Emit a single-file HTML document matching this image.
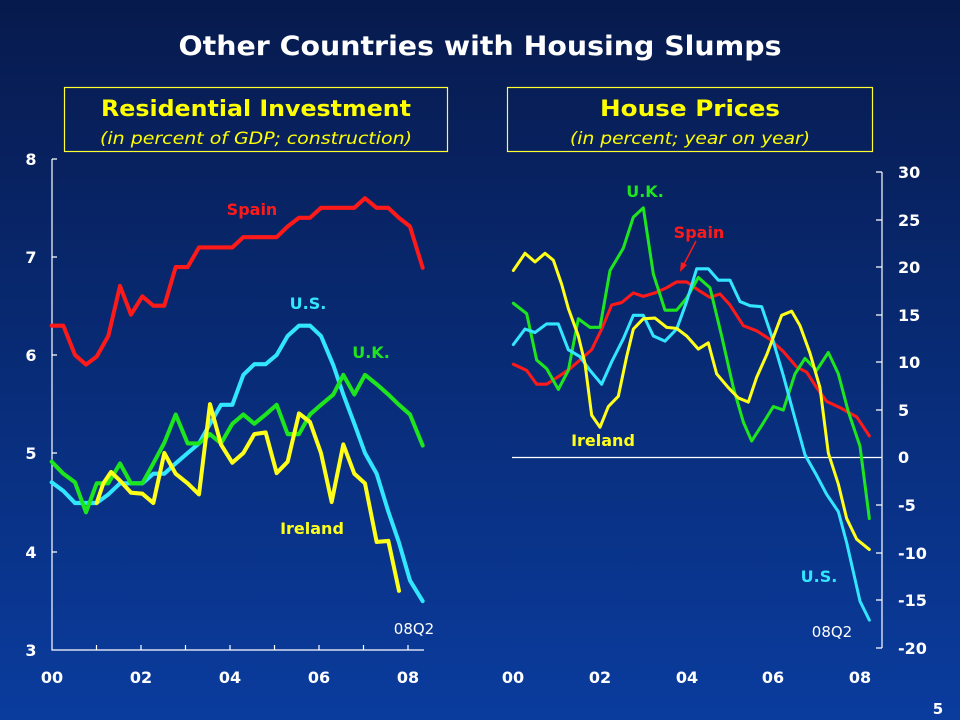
<!DOCTYPE html>
<html><head><meta charset="utf-8"><style>
html,body{margin:0;padding:0;width:960px;height:720px;overflow:hidden}
svg{display:block}
text{font-family:"DejaVu Sans","Liberation Sans",sans-serif}
</style></head><body>
<svg width="960" height="720" viewBox="0 0 960 720" xmlns="http://www.w3.org/2000/svg">
<defs><linearGradient id="bg" x1="0" y1="0" x2="0" y2="1">
<stop offset="0" stop-color="#071a4d"/><stop offset="1" stop-color="#0a3c9e"/></linearGradient></defs>
<rect width="960" height="720" fill="url(#bg)"/>
<text x="480" y="55" text-anchor="middle" fill="#fff" font-size="27" font-weight="bold" textLength="603" lengthAdjust="spacingAndGlyphs">Other Countries with Housing Slumps</text>

<rect x="64.5" y="87.5" width="383" height="64" fill="none" stroke="#ffff33" stroke-width="1.2"/>
<text x="256" y="116" text-anchor="middle" fill="#ffff00" font-size="22" font-weight="bold" textLength="310" lengthAdjust="spacingAndGlyphs">Residential Investment</text>
<text x="256" y="144" text-anchor="middle" fill="#ffff00" font-size="17" font-style="italic" textLength="312" lengthAdjust="spacingAndGlyphs">(in percent of GDP; construction)</text>

<rect x="507.5" y="87.5" width="365" height="64" fill="none" stroke="#ffff33" stroke-width="1.2"/>
<text x="690" y="116" text-anchor="middle" fill="#ffff00" font-size="22" font-weight="bold" textLength="180" lengthAdjust="spacingAndGlyphs">House Prices</text>
<text x="690" y="144" text-anchor="middle" fill="#ffff00" font-size="17" font-style="italic" textLength="240" lengthAdjust="spacingAndGlyphs">(in percent; year on year)</text>

<!-- Left axes -->
<g stroke="#fff" stroke-width="1.2" fill="none">
<path d="M52 159 V650 H424"/>
<path d="M52 159 h5 M52 257 h5 M52 355 h5 M52 453 h5 M52 552 h5"/>
<path d="M96.5 650 v-5 M141 650 v-5 M185.5 650 v-5 M230 650 v-5 M274.5 650 v-5 M319 650 v-5 M363.5 650 v-5 M408 650 v-5"/>
</g>
<g fill="#fff" font-size="16" font-weight="bold" text-anchor="middle">
<text x="31" y="165">8</text><text x="31" y="263">7</text><text x="31" y="361">6</text>
<text x="31" y="459">5</text><text x="31" y="558">4</text><text x="31" y="656">3</text>
<text x="52" y="683">00</text><text x="141" y="683">02</text><text x="230" y="683">04</text>
<text x="319" y="683">06</text><text x="408" y="683">08</text>
</g>
<g transform="translate(0,150) scale(0.33333,0.34439)" fill="none" stroke-width="12" stroke-linejoin="round" stroke-linecap="round">
<polyline stroke="#ff1a1a" points="155,510 190,510 225,595 258,623 290,600 325,540 360,395 393,478 427,425 460,452 493,452 527,340 563,340 597,283 630,283 663,283 697,283 730,253 763,253 797,253 830,253 863,222 897,197 930,197 963,168 1030,168 1063,168 1095,140 1130,168 1165,168 1197,197 1230,222 1268,342"/>
<polyline stroke="#33e6ff" points="155,965 190,990 225,1025 258,1025 290,1025 325,1000 360,968 393,968 427,968 460,940 493,940 527,910 563,880 597,852 630,795 663,740 697,740 730,653 763,622 797,622 830,595 863,540 897,510 930,510 963,540 1000,625 1030,710 1063,795 1095,880 1130,940 1165,1050 1197,1140 1230,1250 1268,1310"/>
<polyline stroke="#1ee61e" points="155,905 190,940 225,965 258,1052 290,968 325,968 360,910 393,968 427,968 460,910 493,850 527,768 563,852 597,852 630,825 663,852 697,795 730,768 763,795 797,768 830,740 863,825 897,825 930,768 963,740 1000,710 1030,653 1063,710 1095,653 1130,680 1165,710 1197,740 1230,768 1268,858"/>
<polyline stroke="#ffff1a" points="290,1025 310,968 333,935 360,960 393,995 427,998 460,1025 493,880 527,940 563,968 597,1000 630,738 663,855 697,908 730,880 763,825 797,820 830,938 863,905 897,765 930,790 963,880 995,1022 1030,855 1063,940 1095,968 1130,1138 1165,1135 1197,1280"/>
</g>
<g font-size="16" font-weight="bold" text-anchor="middle">
<text x="252" y="215" fill="#ff1a1a">Spain</text>
<text x="308" y="309" fill="#33e6ff">U.S.</text>
<text x="371" y="358" fill="#1ee61e">U.K.</text>
<text x="312" y="534" fill="#ffff1a">Ireland</text>
</g>
<text x="414" y="634" text-anchor="middle" fill="#fff" font-size="15" font-family="Liberation Sans, sans-serif">08Q2</text>

<!-- Right axes -->
<g stroke="#fff" stroke-width="1.2" fill="none">
<path d="M882 172 V648"/>
<path d="M876 172 h6 M876 220 h6 M876 267 h6 M876 315 h6 M876 362 h6 M876 410 h6 M876 505 h6 M876 553 h6 M876 600 h6 M876 648 h6"/>
<path d="M512 457.5 H882"/>
</g>
<g fill="#fff" font-size="16" font-weight="bold" text-anchor="start">
<text x="898" y="178">30</text><text x="898" y="226">25</text><text x="898" y="273">20</text>
<text x="898" y="321">15</text><text x="898" y="368">10</text><text x="898" y="416">5</text>
<text x="898" y="463">0</text><text x="898" y="511">-5</text><text x="898" y="559">-10</text>
<text x="898" y="606">-15</text><text x="898" y="654">-20</text>
</g>
<g fill="#fff" font-size="16" font-weight="bold" text-anchor="middle">
<text x="513" y="683">00</text><text x="600" y="683">02</text><text x="687" y="683">04</text>
<text x="773" y="683">06</text><text x="860" y="683">08</text>
</g>
<g transform="translate(480,150) scale(0.33333,0.34439)" fill="none" stroke-width="9" stroke-linejoin="round" stroke-linecap="round">
<polyline stroke="#ff1a1a" points="100,622 140,640 170,680 200,680 240,655 270,635 300,610 335,580 365,520 395,450 425,443 460,415 490,425 525,415 560,400 590,383 620,383 660,410 690,428 720,418 750,450 790,510 830,525 870,550 910,585 950,630 980,645 1010,690 1040,730 1080,748 1130,775 1168,830"/>
<polyline stroke="#1ee61e" points="100,445 140,475 170,610 200,635 235,695 265,640 295,490 330,515 360,515 390,350 430,285 460,195 490,168 520,360 555,465 590,465 620,430 655,370 690,400 725,540 760,690 790,790 815,845 845,800 880,745 910,755 945,650 975,605 1010,640 1045,588 1075,650 1105,760 1140,860 1168,1070"/>
<polyline stroke="#33e6ff" points="100,565 135,520 165,530 200,505 235,505 265,580 300,600 330,640 365,680 395,615 430,548 460,480 490,480 520,540 555,555 590,520 620,440 650,345 685,345 715,378 750,378 780,440 810,452 845,455 875,540 910,655 945,780 975,885 1010,945 1040,1000 1075,1050 1100,1140 1140,1310 1168,1365"/>
<polyline stroke="#ffff1a" points="100,350 135,300 165,325 195,300 220,320 245,390 265,460 295,540 315,620 335,770 360,805 385,745 415,715 440,600 460,520 490,490 525,488 560,515 590,518 620,540 655,578 685,560 710,650 745,690 775,720 805,732 830,660 860,595 905,480 935,468 960,510 990,590 1020,690 1045,880 1075,970 1100,1070 1130,1130 1168,1160"/>
</g>
<g font-size="16" font-weight="bold" text-anchor="middle">
<text x="645" y="197" fill="#1ee61e">U.K.</text>
<text x="699" y="238" fill="#ff1a1a">Spain</text>
<text x="603" y="446" fill="#ffff1a">Ireland</text>
<text x="819" y="582" fill="#33e6ff">U.S.</text>
</g>
<path d="M696 241 L683 266" stroke="#ff1a1a" stroke-width="1.5"/>
<path d="M680 272 L681 262 L687 265 Z" fill="#ff1a1a"/>
<text x="832" y="637" text-anchor="middle" fill="#fff" font-size="15" font-family="Liberation Sans, sans-serif">08Q2</text>

<text x="938" y="714" text-anchor="middle" fill="#fff" font-size="15" font-weight="bold">5</text>
</svg>
</body></html>
